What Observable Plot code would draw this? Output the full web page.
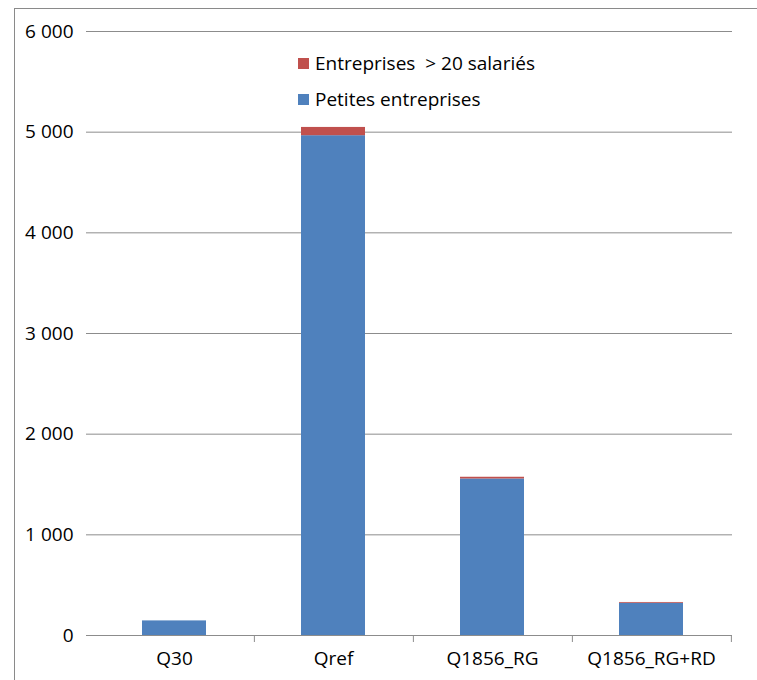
<!DOCTYPE html>
<html>
<head>
<meta charset="utf-8">
<script src="https://cdn.jsdelivr.net/npm/d3@7"></script>
<script src="https://cdn.jsdelivr.net/npm/@observablehq/plot@0.6"></script>
<style>
  html, body { margin: 0; padding: 0; background: #fff; overflow: hidden; }
  #wrap { position: relative; width: 757px; height: 680px; }
  #frame { position: absolute; left: 14px; top: 8px; width: 800px; height: 800px; border: 1px solid #8a8a8a; box-sizing: border-box; }
  #chart { position: absolute; left: 0; top: 0; }
  .legend { position: absolute; left: 298px; font-family: "Open Sans", sans-serif; font-size: 19px; color: #000; }
  .legend div { display: flex; align-items: center; height: 24px; }
  .legend span.sw { display: inline-block; width: 11px; height: 11px; margin-right: 6px; }
</style>
</head>
<body>
<div id="wrap">
  <div id="frame"></div>
  <div id="chart"></div>
  <div class="legend" id="legend" style="top:51px"></div>
</div>
<script>
const categories = ["Q30", "Qref", "Q1856_RG", "Q1856_RG+RD"];
const petites = [145, 4965, 1555, 320];
const grandes = [0, 82, 17, 8];
const seriesNames = ["Petites entreprises", "Entreprises  > 20 salariés"];
const seriesColors = ["#4F81BD", "#C0504D"];
const yTicks = [0, 1000, 2000, 3000, 4000, 5000, 6000];

const data = [];
categories.forEach((c, i) => {
  data.push({cat: c, series: seriesNames[0], value: petites[i]});
  data.push({cat: c, series: seriesNames[1], value: grandes[i]});
});

const W = 757, H = 680, ml = 93, mr = 25, mt = 31, mb = 45;
const step = (W - ml - mr) / categories.length;
const fmt = d => d3.format(",")(d).replace(/,/g, " ");

const chart = Plot.plot({
  width: W, height: H,
  marginLeft: ml, marginRight: mr, marginTop: mt, marginBottom: mb,
  style: {fontFamily: "'Open Sans', sans-serif", fontSize: "19px", color: "#000", background: "transparent"},
  x: {domain: categories, paddingInner: 0.6, paddingOuter: 0.3, label: null},
  y: {domain: [0, 6000], label: null},
  color: {domain: seriesNames, range: seriesColors},
  marks: [
    Plot.gridY(yTicks, {stroke: "#8c8c8c", strokeOpacity: 1}),
    Plot.axisY({ticks: yTicks, tickFormat: fmt, tickSize: 7, tickPadding: 13, stroke: "#8c8c8c", fontSize: 19}),
    Plot.ruleX([0], {frameAnchor: "left", stroke: "#8c8c8c"}),
    Plot.barY(data, Plot.stackY({x: "cat", y: "value", fill: "series", order: seriesNames})),
    Plot.ruleY([0], {stroke: "#8c8c8c"}),
    Plot.axisX({tickSize: 0, tickPadding: 16, fontSize: 19}),
    Plot.axisX({tickSize: 7, dx: step / 2, tickFormat: () => "", stroke: "#8c8c8c"})
  ]
});
document.getElementById("chart").appendChild(chart);

const leg = document.getElementById("legend");
[1, 0].forEach(i => {
  const row = document.createElement("div");
  row.innerHTML = `<span class="sw" style="background:${seriesColors[i]}"></span>${seriesNames[i].replace(/ /g, "&nbsp;")}`;
  leg.appendChild(row);
});
leg.children[1].style.marginTop = "12px";
</script>
</body>
</html>
